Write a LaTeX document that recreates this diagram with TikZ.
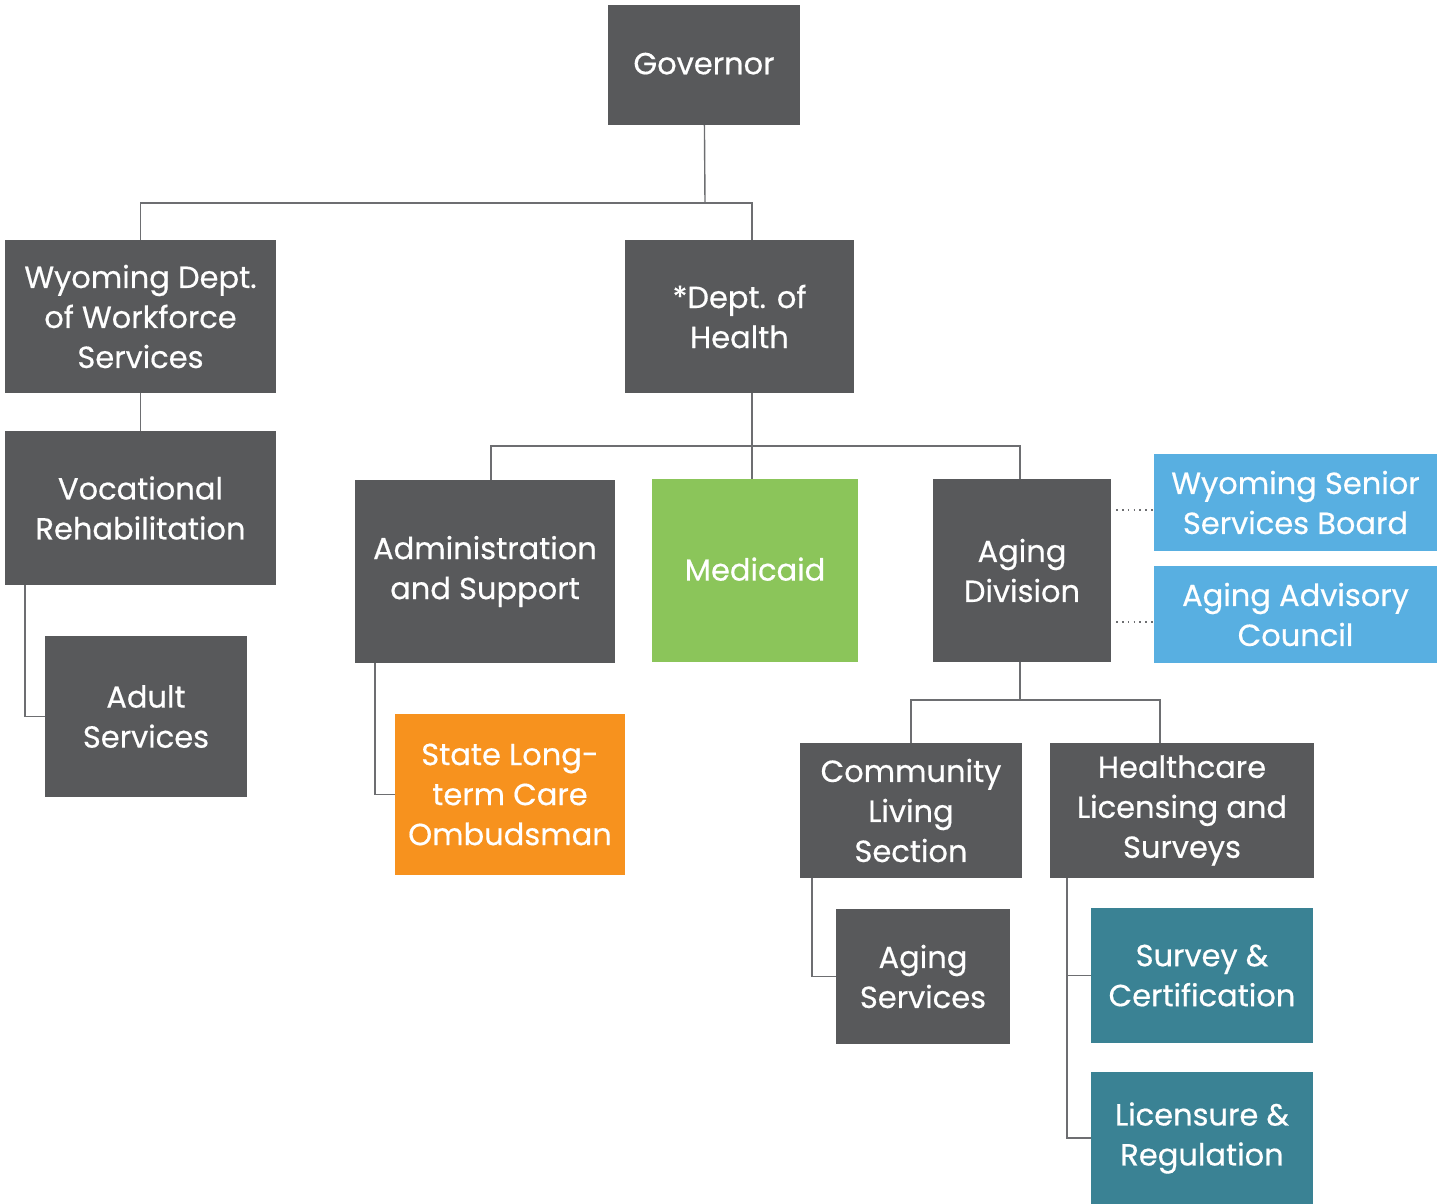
\documentclass[tikz,border=0pt]{standalone}
\usepackage{fontspec}
\setmainfont{Poppins}[FakeBold=0.5]
\usepackage{tikz}
\usetikzlibrary{positioning,calc}
\definecolor{boxgray}{HTML}{58595B}
\definecolor{medgreen}{HTML}{8BC55A}
\definecolor{boardblue}{HTML}{58AFE1}
\definecolor{ombudorange}{HTML}{F7921E}
\definecolor{licteal}{HTML}{3A8294}
\definecolor{linegray}{HTML}{6D6E71}
\begin{document}
\begin{tikzpicture}[x=1pt,y=-1pt,
    unit/.style={fill=boxgray,text=white,align=center,inner sep=0pt,
      font=\fontsize{30.5}{40}\selectfont},
    link/.style={draw=linegray,line width=1.4pt},
    dotline/.style={draw=linegray,line width=1.6pt,dash pattern=on 1.6pt off 4.2pt}]
        \useasboundingbox (0,0) rectangle (1443,1204);
        \node[unit,minimum width=192,minimum height=120] (Gov) at (704,65) {\raisebox{3pt}{Governor}};
        \node[unit,minimum width=271,minimum height=153] (WDWS) at (140.5,316.5) {Wyoming Dept.\\of Workforce\\Services};
        \node[unit,minimum width=229,minimum height=153] (DoH) at (739.5,316.5) {*Dept. of\\Health};
        \node[unit,minimum width=271,minimum height=154] (VR) at (140.5,508) {Vocational\\Rehabilitation};
        \node[unit,minimum width=202,minimum height=161] (Adult) at (146,716.5) {Adult\\Services};
        \node[unit,minimum width=260,minimum height=183] (Admin) at (485,571.5) {Administration\\and Support};
        \node[unit,fill=medgreen,minimum width=206,minimum height=183] (Med) at (755,570.5) {\raisebox{3pt}{Medicaid}};
        \node[unit,minimum width=178,minimum height=183] (Aging) at (1022,570.5) {Aging\\Division};
        \node[unit,fill=boardblue,minimum width=283,minimum height=97] (WSSB) at (1295.5,502.5) {Wyoming Senior\\Services Board};
        \node[unit,fill=boardblue,minimum width=283,minimum height=97] (AAC) at (1295.5,614.5) {Aging Advisory\\Council};
        \node[unit,fill=ombudorange,minimum width=230,minimum height=161] (Ombud) at (510,794.5) {State Long-\\term Care\\Ombudsman};
        \node[unit,minimum width=222,minimum height=135] (CLS) at (911,810.5) {Community\\Living\\Section};
        \node[unit,minimum width=264,minimum height=135] (HLS) at (1182,810.5) {Healthcare\\Licensing and\\Surveys};
        \node[unit,minimum width=174,minimum height=135] (ASvc) at (923,976.5) {Aging\\Services};
        \node[unit,fill=licteal,minimum width=222,minimum height=135] (SC) at (1202,975.5) {Survey \&\\Certification};
        \node[unit,fill=licteal,minimum width=222,minimum height=132] (LR) at (1202,1138) {Licensure \&\\Regulation};
        % junctions
        \coordinate (J1) at (705,203);
        \coordinate (J2) at (752,446);
        \coordinate (J3) at (1020,700);
        \draw [link] (Gov) -- (J1);
        \draw [link] (WDWS.north) |- (J1) -| ([xshift=12.5]DoH.north);
        \draw [link] (WDWS) -- (VR);
        \draw [link] ([xshift=-115.5]VR.south) |- (Adult.west);
        \draw [link] ([xshift=12.5]DoH.south) -- (J2);
        \draw [link] ([xshift=6]Admin.north) |- (J2) -| ([xshift=-2]Aging.north);
        \draw [link] (J2) -- ([xshift=-3]Med.north);
        \draw [link] ([xshift=-110]Admin.south) |- (Ombud.west);
        \coordinate (D1) at ([yshift=-7.5]WSSB.west);
        \coordinate (D2) at ([yshift=-7.5]AAC.west);
        \draw [dotline,shorten <=5pt] (Aging.east |- D1) -- (D1);
        \draw [dotline,shorten <=5pt] (Aging.east |- D2) -- (D2);
        \draw [link] ([xshift=-2]Aging.south) -- (J3);
        \draw [link] (CLS.north) |- (J3) -| ([xshift=-22]HLS.north);
        \draw [link] ([xshift=-99]CLS.south) |- (ASvc.west);
        \draw [link] ([xshift=-115]HLS.south) |- (SC.west);
        \draw [link] ([xshift=-115]HLS.south) |- (LR.west);
      \end{tikzpicture}
\end{document}
